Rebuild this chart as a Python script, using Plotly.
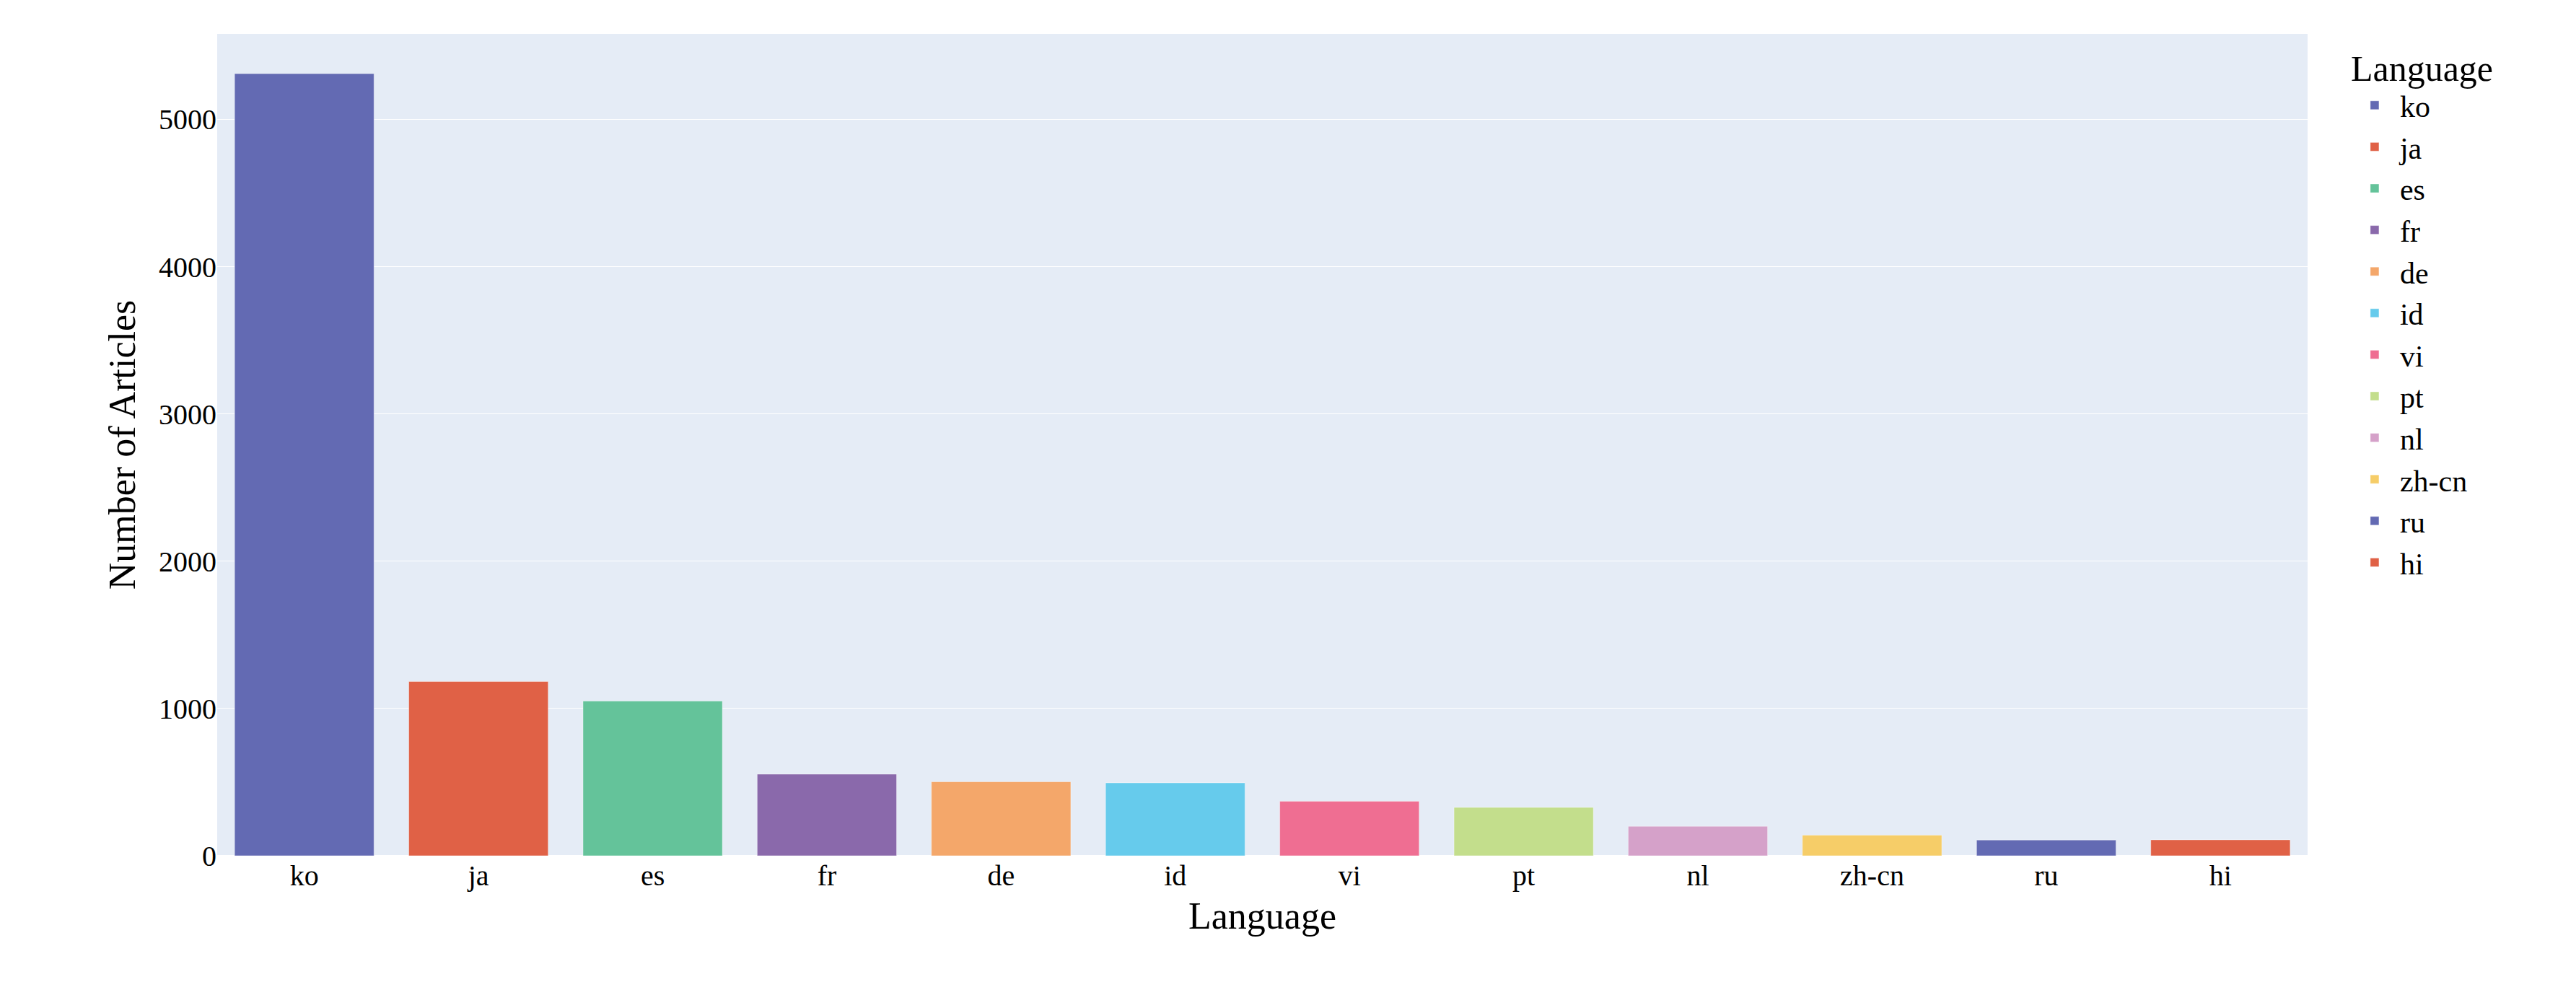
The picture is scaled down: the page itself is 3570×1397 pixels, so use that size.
import plotly.graph_objects as go

languages = ["ko", "ja", "es", "fr", "de", "id", "vi", "pt", "nl", "zh-cn", "ru", "hi"]
counts = [5310, 1183, 1050, 554, 502, 495, 370, 328, 200, 140, 107, 108]
colors = ["#636AB3", "#E06146", "#64C39A", "#8A69AB", "#F4A76A", "#66CBEC",
          "#EF6E92", "#C3DE8C", "#D5A1C9", "#F6CD68", "#636AB3", "#E06146"]

fig = go.Figure()
for lang, n, c in zip(languages, counts, colors):
    fig.add_trace(go.Bar(x=[lang], y=[n], name=lang, marker_color=c,
                         marker_line=dict(color="rgba(255,255,255,0.4)", width=1)))

fig.update_layout(
    width=3570, height=1397,
    template="plotly",
    font=dict(family="Liberation Serif", size=40, color="black"),
    barmode="relative",
    bargap=0.2,
    margin=dict(l=293, r=380, t=39, b=219),
    legend=dict(title=dict(text="Language", font=dict(size=50)), font=dict(size=42),
                tracegroupgap=0, itemwidth=60),
    xaxis=dict(title=dict(text="Language", font=dict(size=52)), categoryorder="array",
               categoryarray=languages),
    yaxis=dict(title=dict(text="Number of Articles", font=dict(size=52)), range=[0, 5580]),
)
fig.write_html("out.html")
